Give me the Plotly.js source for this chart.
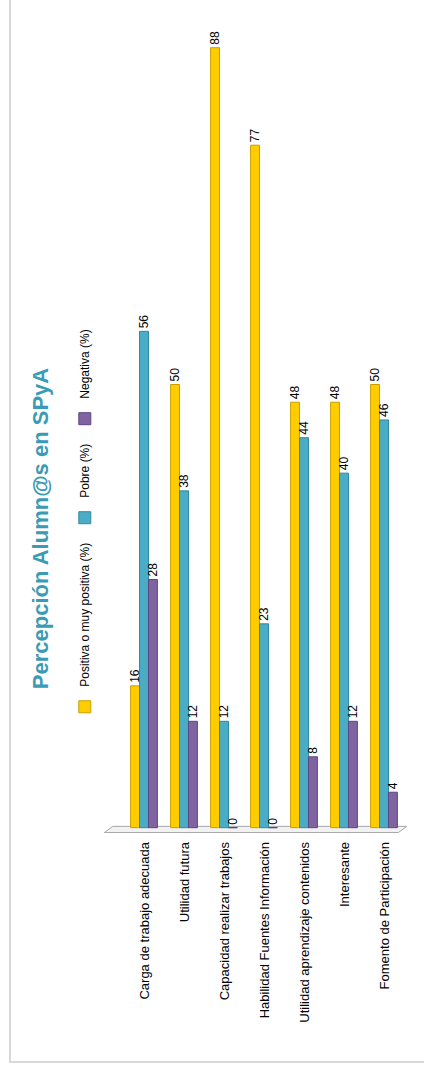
<!DOCTYPE html>
<html>
<head>
<meta charset="utf-8">
<script src="https://cdn.plot.ly/plotly-3.0.1.min.js"></script>
<style>
  html, body { margin: 0; padding: 0; background: #ffffff; }
  #wrap { position: absolute; left: 0; top: 0; width: 424px; height: 1072px; overflow: hidden; }
  #rot { position: absolute; left: 0; top: 0; width: 1072px; height: 424px;
         transform-origin: 0 0; transform: translate(0px, 1072px) rotate(-90deg); }
  #frame { position: absolute; left: 9px; top: 9px; width: 1200px; height: 600px;
           border: 2px solid #d9d9d9; box-sizing: border-box; }
  #chart { position: absolute; left: 0; top: 0; width: 1072px; height: 424px; }
</style>
</head>
<body>
<div id="wrap">
  <div id="rot">
    <div id="frame"></div>
    <div id="chart"></div>
  </div>
</div>
<script>
const categories = [
  "Carga de trabajo adecuada",
  "Utilidad futura",
  "Capacidad realizar trabajos",
  "Habilidad Fuentes Información",
  "Utilidad aprendizaje contenidos",
  "Interesante",
  "Fomento de Participación"
];
const seriesNames = ["Positiva o muy positiva (%)", "Pobre (%)", "Negativa (%)"];
const positiva = [16, 50, 88, 77, 48, 48, 50];
const pobre    = [56, 38, 12, 23, 44, 40, 46];
const negativa = [28, 12, 0, 0, 8, 12, 4];
const colors = ["#FFCC00", "#4BACC6", "#8064A2"];
const edgeColors = ["#C9A000", "#2F8AA3", "#5E4680"];

const allValues = [positiva, pobre, negativa];
const traces = allValues.map((vals, i) => ({
  type: "bar",
  orientation: "h",
  name: seriesNames[i],
  y: categories,
  x: vals,
  text: vals.map(String),
  textposition: "outside",
  textangle: 0,
  constraintext: "none",
  cliponaxis: false,
  textfont: { family: "Liberation Sans, Arial, sans-serif", size: 12, color: "#000000" },
  marker: { color: colors[i], line: { color: edgeColors[i], width: 1 } },
  hoverinfo: "skip"
}));

const layout = {
  width: 1072,
  height: 424,
  paper_bgcolor: "rgba(0,0,0,0)",
  plot_bgcolor: "rgba(0,0,0,0)",
  margin: { l: 239, r: 14, t: 124, b: 20, pad: 0 },
  barmode: "group",
  bargap: 0.33,
  bargroupgap: 0,
  showlegend: true,
  font: { family: "Liberation Sans, Arial, sans-serif", color: "#000000" },
  title: {
    text: "<b>Percepción Alumn@s en SPyA</b>",
    font: { family: "Liberation Sans, Arial, sans-serif", size: 22, color: "#3A9BB5" },
    x: 0.507, xref: "container", xanchor: "center",
    y: 0.905, yref: "container", yanchor: "middle"
  },
  legend: {
    orientation: "h",
    xref: "container", yref: "container",
    x: 0.51, xanchor: "center",
    y: 0.80, yanchor: "middle",
    font: { family: "Liberation Sans, Arial, sans-serif", size: 12, color: "#000000" },
    itemwidth: 30,
    traceorder: "normal",
    bgcolor: "rgba(0,0,0,0)"
  },
  xaxis: {
    range: [-0.6, 91.8],
    showgrid: false,
    zeroline: false,
    showline: false,
    showticklabels: false,
    ticks: ""
  },
  yaxis: {
    type: "category",
    autorange: "reversed",
    showgrid: false,
    zeroline: false,
    showline: false,
    ticks: "",
    tickfont: { family: "Liberation Sans, Arial, sans-serif", size: 13, color: "#000000" },
    ticklabelstandoff: 8
  },
  shapes: [{
    type: "path",
    xref: "x", yref: "paper",
    path: "M -0.55,1.07 L 0.15,1.04 L 0.15,-0.01 L -0.55,0.02 Z",
    line: { color: "#a6a6a6", width: 1 },
    fillcolor: "#f2f2f2",
    layer: "below"
  }]
};

Plotly.newPlot("chart", traces, layout, { displayModeBar: false, staticPlot: true });
</script>
</body>
</html>
